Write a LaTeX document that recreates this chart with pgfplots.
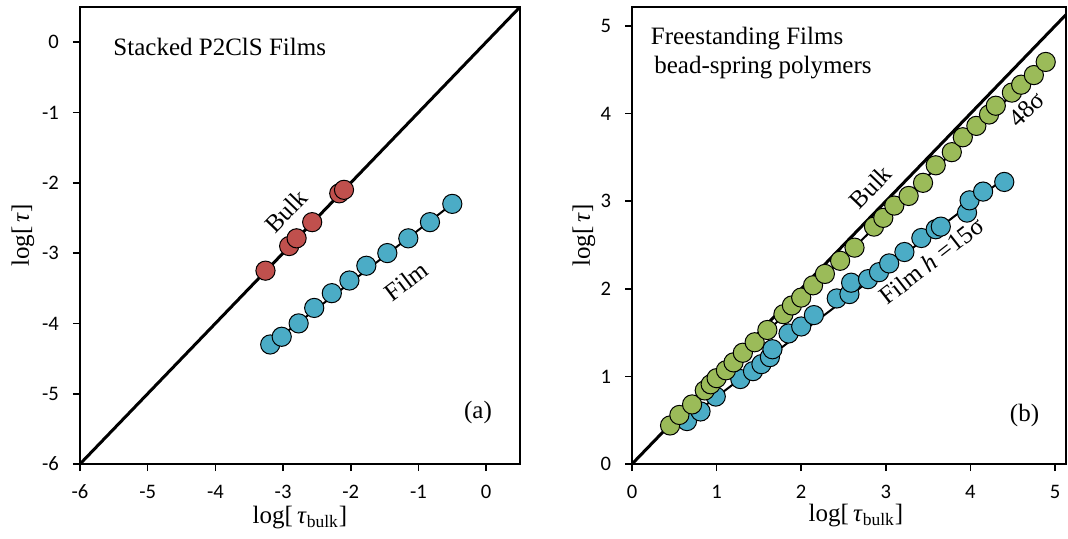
\documentclass[border=0pt]{standalone}
\usepackage{pgfplots}
\pgfplotsset{compat=1.18}
\usepackage{fontspec}
\setmainfont{Liberation Serif}
\newfontfamily\tickfont{Carlito}
\definecolor{bulkred}{HTML}{C0504D}
\definecolor{filmblue}{HTML}{4BACC6}
\definecolor{bsgreen}{HTML}{9BBB59}

\pgfplotsset{
  panel/.style={
    scale only axis,
    height=228.5pt,
    axis line style={line width=1pt},
    tick align=outside,
    xtick pos=bottom, ytick pos=left,
    major tick length=3.5pt,
    every tick/.style={black, line width=0.8pt},
    tick label style={font=\tickfont\fontsize{10.3}{12}\selectfont},
    xticklabel style={yshift=-3.5pt},
    yticklabel style={xshift=-3.5pt},
    /pgf/number format/assume math mode=true,
    label style={font=\fontsize{12.5}{14}\selectfont},
    xlabel={log[\,\textit{τ}\textsubscript{bulk}]},
    ylabel={log[\,\textit{τ}]},
  },
  dot/.style={only marks, mark=*, mark size=4.8pt,
    mark options={draw=black, line width=0.5pt, fill=#1}},
}
\tikzset{txt/.style={font=\fontsize{12.5}{14}\selectfont}}

\begin{document}
\begin{tikzpicture}
\useasboundingbox (0,0) rectangle (534pt,269pt);

% (a) stacked P2ClS films
\begin{axis}[panel,
    at={(40pt,37pt)}, anchor=south west,
    width=220pt,
    xmin=-6, xmax=0.5, ymin=-6, ymax=0.5,
    xtick={-6,...,0}, ytick={-6,...,0},
    xlabel style={at={(axis description cs:0.5,-0.118)}, anchor=center},
    ylabel style={at={(axis description cs:-0.13,0.5)}, anchor=center},
]
\addplot[dot=filmblue] coordinates {
  (-3.19,-4.30) (-3.02,-4.19) (-2.77,-4.00) (-2.54,-3.78) (-2.28,-3.57)
  (-2.02,-3.39) (-1.77,-3.18) (-1.46,-3.00) (-1.15,-2.79) (-0.83,-2.56)
  (-0.50,-2.30)};
\addplot[dot=bulkred] coordinates {
  (-3.26,-3.25) (-2.91,-2.90) (-2.80,-2.79) (-2.57,-2.56) (-2.17,-2.15)
  (-2.10,-2.10)};
\addplot[black, line width=1.5pt] coordinates {(-6,-6) (0.5,0.5)};
\addplot[black, line width=1pt] coordinates {(-3.19,-4.30) (-0.50,-2.30)};

\node[txt, anchor=west] at (axis cs:-5.61,-0.07) {Stacked P2ClS Films};
\node[txt, rotate=46] at (axis cs:-2.96,-2.40) {Bulk};
\node[txt, rotate=37] at (axis cs:-1.18,-3.40) {Film};
\node[txt] at (axis cs:-0.12,-5.27) {(a)};
\end{axis}

% (b) freestanding films, bead-spring polymers
\begin{axis}[panel,
    at={(316pt,37pt)}, anchor=south west,
    width=217pt,
    xmin=0, xmax=5.13, ymin=0, ymax=5.217,
    xtick={0,...,5}, ytick={0,...,5},
    xlabel style={at={(axis description cs:0.516,-0.112)}, anchor=center},
    ylabel style={at={(axis description cs:-0.111,0.5)}, anchor=center},
]
\addplot[dot=filmblue] coordinates {
  (0.65,0.49) (0.81,0.60) (0.99,0.77) (1.28,0.97) (1.43,1.06) (1.53,1.14)
  (1.63,1.22) (1.66,1.31) (1.85,1.49) (2.00,1.57) (2.15,1.70) (2.42,1.89)
  (2.57,1.94) (2.59,2.07) (2.79,2.11) (2.92,2.19) (3.04,2.29) (3.22,2.42)
  (3.42,2.58) (3.59,2.68) (3.65,2.71) (3.96,2.87) (3.99,3.01) (4.15,3.11)
  (4.40,3.22)};
\addplot[dot=bsgreen] coordinates {
  (0.45,0.44) (0.56,0.56) (0.71,0.68) (0.86,0.84) (0.93,0.91) (1.00,0.98)
  (1.11,1.07) (1.20,1.16) (1.31,1.27) (1.45,1.39) (1.60,1.53) (1.79,1.71)
  (1.89,1.81) (2.00,1.90) (2.14,2.04) (2.28,2.17) (2.46,2.32) (2.63,2.47)
  (2.86,2.71) (2.97,2.81) (3.10,2.95) (3.27,3.06) (3.44,3.21) (3.59,3.41)
  (3.78,3.56) (3.91,3.73) (4.07,3.86) (4.22,3.99) (4.30,4.09) (4.49,4.24)
  (4.60,4.33) (4.75,4.44) (4.89,4.59)};
\addplot[black, line width=1.5pt] coordinates {(0,0) (5.13,5.13)};
\addplot[black, line width=1pt] coordinates {(0.45,0.44) (4.89,4.59)};
\addplot[black, line width=1pt] coordinates {(0.65,0.51) (4.40,3.26)};

\node[txt, anchor=west] at (axis cs:0.14,4.86) {Freestanding Films};
\node[txt, anchor=west] at (axis cs:0.18,4.53) {bead-spring polymers};
\node[txt, rotate=46] at (axis cs:2.82,3.16) {Bulk};
\node[txt, rotate=44] at (axis cs:4.66,4.05) {48σ};
\node[txt, rotate=38] at (axis cs:3.54,2.32) {Film \textit{h} =15σ};
\node[txt] at (axis cs:4.64,0.55) {(b)};
\end{axis}
\end{tikzpicture}
\end{document}
